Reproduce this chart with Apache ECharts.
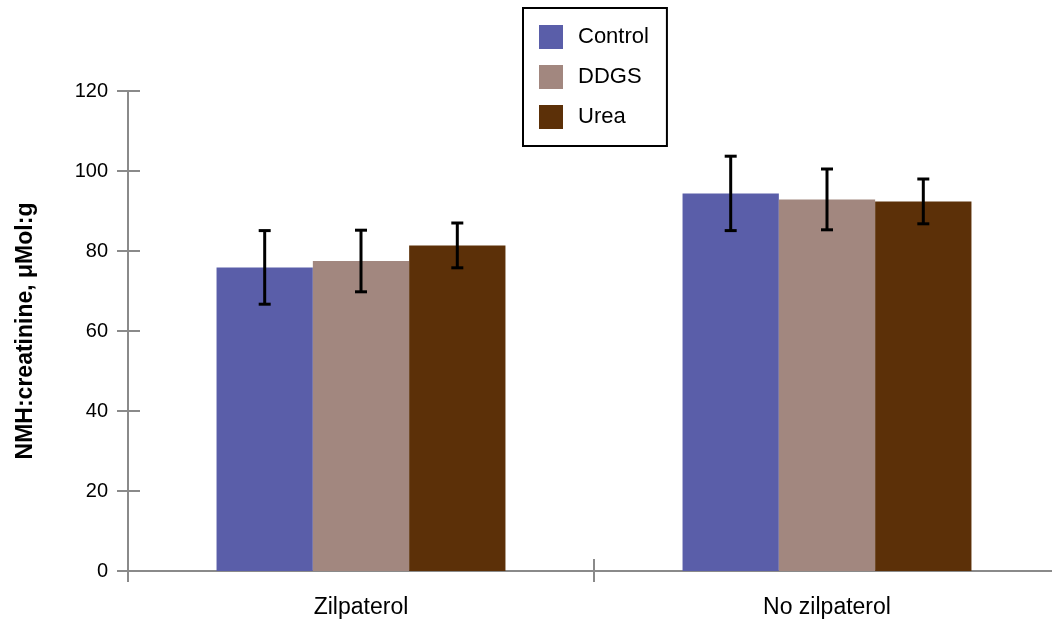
<!DOCTYPE html>
<html>
<head>
<meta charset="utf-8">
<script src="https://cdn.jsdelivr.net/npm/echarts@6/dist/echarts.min.js"></script>
<style>
html,body{margin:0;padding:0;background:#fff;}
#chart{width:1052px;height:626px;}
</style>
</head>
<body>
<div id="chart"></div>
<script>
const categories = ['Zilpaterol', 'No zilpaterol'];
const seriesNames = ['Control', 'DDGS', 'Urea'];
const controlMeans = [75.9, 94.4];
const ddgsMeans = [77.5, 92.9];
const ureaMeans = [81.4, 92.4];
const controlErr = [9.2, 9.3];
const ddgsErr = [7.7, 7.6];
const ureaErr = [5.6, 5.6];
const yTicks = [0, 20, 40, 60, 80, 100, 120];

const colors = ['#5a5ea9', '#a2877f', '#5c3008'];
const axisColor = '#8a8a8a';
const FONT = '"Liberation Sans", Arial, Helvetica, sans-serif';
const catGap = 0.38;

const meansList = [controlMeans, ddgsMeans, ureaMeans];
const errList = [controlErr, ddgsErr, ureaErr];

const chart = echarts.init(document.getElementById('chart'));

const barSeries = seriesNames.map((name, k) => ({
  name: name,
  type: 'bar',
  xAxisIndex: 0,
  yAxisIndex: 0,
  data: meansList[k],
  barGap: '0%',
  barCategoryGap: '38%',
  itemStyle: { color: colors[k] },
  z: 2
}));

const errSeries = seriesNames.map((name, k) => ({
  name: name + ' error',
  type: 'custom',
  xAxisIndex: 0,
  yAxisIndex: 0,
  z: 5,
  silent: true,
  data: meansList[k].map((m, i) => [i, m - errList[k][i], m + errList[k][i]]),
  renderItem: function (params, api) {
    const xi = api.value(0);
    const band = api.size([1, 0])[0];
    const bw = band * (1 - catGap) / 3;
    const off = (k - 1) * bw;
    const lo = api.coord([xi, api.value(1)]);
    const hi = api.coord([xi, api.value(2)]);
    const x = lo[0] + off;
    const cap = 6;
    const style = { stroke: '#000', lineWidth: 3 };
    return {
      type: 'group',
      children: [
        { type: 'line', shape: { x1: x, y1: lo[1], x2: x, y2: hi[1] }, style: style },
        { type: 'line', shape: { x1: x - cap, y1: lo[1], x2: x + cap, y2: lo[1] }, style: style },
        { type: 'line', shape: { x1: x - cap, y1: hi[1], x2: x + cap, y2: hi[1] }, style: style }
      ]
    };
  }
}));

// invisible helper series so the tick-only axes of the second grid get a scale
const helperSeries = {
  name: 'tick helper',
  type: 'custom',
  xAxisIndex: 1,
  yAxisIndex: 1,
  silent: true,
  data: categories.map((c, i) => [i, yTicks[0]]),
  renderItem: function () { return null; }
};

const gridRect = { left: 128, width: 932, top: 91, height: 480, containLabel: false, outerBoundsMode: 'none' };

const option = {
  animation: false,
  textStyle: { fontFamily: FONT },
  grid: [Object.assign({}, gridRect), Object.assign({}, gridRect)],
  legend: {
    data: seriesNames,
    orient: 'vertical',
    left: 523,
    top: 8,
    padding: [17, 18, 17, 16],
    itemGap: 16,
    itemWidth: 24,
    itemHeight: 24,
    borderColor: '#000',
    borderWidth: 2,
    icon: 'rect',
    textStyle: { fontFamily: FONT, fontSize: 22, color: '#000', padding: [0, 0, 0, 10] }
  },
  xAxis: [
    {
      type: 'category',
      gridIndex: 0,
      data: categories,
      position: 'bottom',
      axisLine: { show: true, lineStyle: { color: axisColor, width: 2 } },
      axisTick: { show: true, length: 11, lineStyle: { color: axisColor, width: 2 } },
      axisLabel: { fontFamily: FONT, fontSize: 23, color: '#000', margin: 25 },
      splitLine: { show: false }
    },
    {
      type: 'category',
      gridIndex: 1,
      data: categories,
      position: 'bottom',
      axisLine: { show: true, lineStyle: { color: axisColor, width: 2 } },
      axisTick: { show: true, inside: true, length: 12, lineStyle: { color: axisColor, width: 2 } },
      axisLabel: { show: false },
      splitLine: { show: false }
    }
  ],
  yAxis: [
    {
      type: 'value',
      gridIndex: 0,
      min: yTicks[0],
      max: yTicks[yTicks.length - 1],
      interval: yTicks[1] - yTicks[0],
      position: 'left',
      name: 'NMH:creatinine, μMol:g',
      nameLocation: 'middle',
      nameGap: 91,
      nameTextStyle: { fontFamily: FONT, fontSize: 23, fontWeight: 'bold', color: '#000' },
      axisLine: { show: true, lineStyle: { color: axisColor, width: 2 } },
      axisTick: { show: true, length: 11, lineStyle: { color: axisColor, width: 2 } },
      axisLabel: { fontFamily: FONT, fontSize: 20, color: '#000', margin: 20 },
      splitLine: { show: false }
    },
    {
      type: 'value',
      gridIndex: 1,
      min: yTicks[0],
      max: yTicks[yTicks.length - 1],
      interval: yTicks[1] - yTicks[0],
      position: 'left',
      axisLine: { show: true, lineStyle: { color: axisColor, width: 2 } },
      axisTick: { show: true, inside: true, length: 12, lineStyle: { color: axisColor, width: 2 } },
      axisLabel: { show: false },
      splitLine: { show: false }
    }
  ],
  series: barSeries.concat(errSeries, [helperSeries])
};

chart.setOption(option);
</script>
</body>
</html>
